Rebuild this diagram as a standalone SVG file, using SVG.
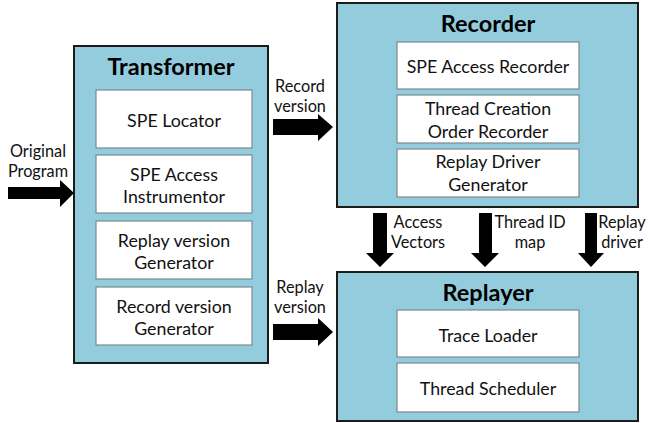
<svg xmlns="http://www.w3.org/2000/svg" width="648" height="423" viewBox="0 0 648 423">
<style>
.outer{fill:#93CDDD;stroke:#1b1b1b;stroke-width:2}
.inner{fill:#ffffff;stroke:#7a8a90;stroke-width:1.2}
.title{font-family:Lato,"Liberation Sans",sans-serif;font-weight:bold;font-size:23.5px;fill:#000;text-anchor:middle}
.lbl{font-family:Lato,"Liberation Sans",sans-serif;font-size:17.8px;fill:#111;text-anchor:middle}
.cl{font-family:Lato,"Liberation Sans",sans-serif;font-size:16.3px;fill:#111;text-anchor:middle}
.arr{fill:#000}
</style>
<rect width="648" height="423" fill="#ffffff"/>
<g id="transformer">
<rect class="outer" x="74" y="46" width="194" height="317"/>
<text class="title" x="171" y="75">Transformer</text>
<rect class="inner" x="96" y="90" width="156" height="58"/>
<text class="lbl" x="174" y="127">SPE Locator</text>
<rect class="inner" x="96" y="155" width="156" height="58"/>
<text class="lbl" x="174" y="181">SPE Access</text>
<text class="lbl" x="174" y="203">Instrumentor</text>
<rect class="inner" x="96" y="221" width="156" height="58"/>
<text class="lbl" x="174" y="247">Replay version</text>
<text class="lbl" x="174" y="269">Generator</text>
<rect class="inner" x="96" y="287" width="156" height="58"/>
<text class="lbl" x="174" y="313">Record version</text>
<text class="lbl" x="174" y="335">Generator</text>
</g>
<g id="recorder">
<rect class="outer" x="337" y="3" width="301" height="204"/>
<text class="title" x="488" y="32">Recorder</text>
<rect class="inner" x="397" y="42" width="182" height="47"/>
<text class="lbl" x="488" y="73">SPE Access Recorder</text>
<rect class="inner" x="397" y="95" width="182" height="48"/>
<text class="lbl" x="488" y="115">Thread Creation</text>
<text class="lbl" x="488" y="138">Order Recorder</text>
<rect class="inner" x="397" y="149" width="182" height="48"/>
<text class="lbl" x="488" y="168">Replay Driver</text>
<text class="lbl" x="488" y="191">Generator</text>
</g>
<g id="replayer">
<rect class="outer" x="337" y="272" width="301" height="149"/>
<text class="title" x="488" y="301">Replayer</text>
<rect class="inner" x="397" y="310" width="182" height="47"/>
<text class="lbl" x="488" y="342">Trace Loader</text>
<rect class="inner" x="397" y="363" width="182" height="49"/>
<text class="lbl" x="488" y="395">Thread Scheduler</text>
</g>
<g id="connectors">
<polygon class="arr" points="8,187 60,187 60,180 74,193 60,207 60,199 8,199"/>
<polygon class="arr" points="273,119 318,119 318,114 333,127 318,141 318,135 273,135"/>
<polygon class="arr" points="273,324 318,324 318,318 333,332 318,346 318,340 273,340"/>
<polygon class="arr" points="373,213 387,213 387,253 394,253 380,267 366,253 373,253"/>
<polygon class="arr" points="479,213 492,213 492,253 499,253 485,267 471,253 479,253"/>
<polygon class="arr" points="585,213 597,213 597,253 604,253 591,267 578,253 585,253"/>
<text class="cl" x="38" y="157">Original</text>
<text class="cl" x="38" y="177">Program</text>
<text class="cl" x="300" y="92">Record</text>
<text class="cl" x="300" y="112">version</text>
<text class="cl" x="300" y="293">Replay</text>
<text class="cl" x="300" y="313">version</text>
<text class="cl" x="418" y="228">Access</text>
<text class="cl" x="418" y="248">Vectors</text>
<text class="cl" x="530" y="228">Thread ID</text>
<text class="cl" x="530" y="248">map</text>
<text class="cl" x="622" y="228">Replay</text>
<text class="cl" x="622" y="248">driver</text>
</g>
</svg>
